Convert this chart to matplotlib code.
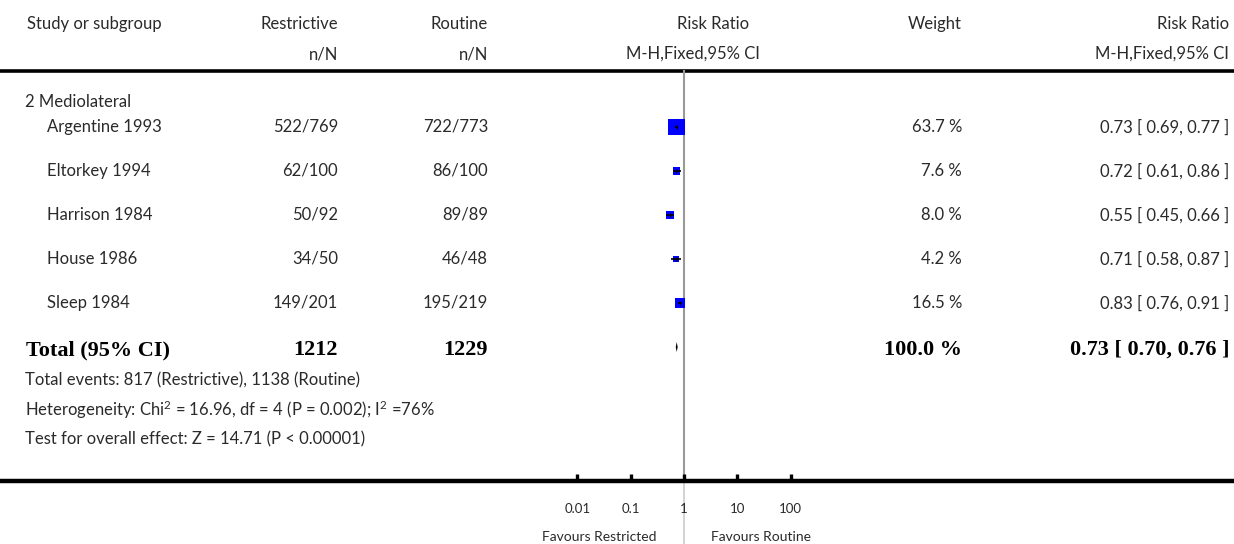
import matplotlib
matplotlib.use("Agg")
import matplotlib.pyplot as plt
import numpy as np

# ---------------- data ----------------
subgroup = "2 Mediolateral"
studies = ["Argentine 1993", "Eltorkey 1994", "Harrison 1984", "House 1986", "Sleep 1984"]
restrictive_nN = ["522/769", "62/100", "50/92", "34/50", "149/201"]
routine_nN = ["722/773", "86/100", "89/89", "46/48", "195/219"]
weights = [63.7, 7.6, 8.0, 4.2, 16.5]
rr = [0.73, 0.72, 0.55, 0.71, 0.83]
rr_lo = [0.69, 0.61, 0.45, 0.58, 0.76]
rr_hi = [0.77, 0.86, 0.66, 0.87, 0.91]
total_restrictive = "1212"
total_routine = "1229"
total_weight = 100.0
total_rr, total_lo, total_hi = 0.73, 0.70, 0.76
footer_lines = [
    "Total events: 817 (Restrictive), 1138 (Routine)",
    r"Heterogeneity: Chi$^{2}$ = 16.96, df = 4 (P = 0.002); I$^{2}$ =76%",
    "Test for overall effect: Z = 14.71 (P < 0.00001)",
]
axis_ticks = [0.01, 0.1, 1, 10, 100]
axis_tick_labels = ["0.01", "0.1", "1", "10", "100"]
favours_left = "Favours Restricted"
favours_right = "Favours Routine"

# ---------------- layout ----------------
W, H = 1234, 544
fig = plt.figure(figsize=(W / 100, H / 100), dpi=100)
plt.rcParams["mathtext.fontset"] = "custom"
plt.rcParams["mathtext.rm"] = "Lato"
plt.rcParams["mathtext.it"] = "Lato:italic"
tx = fig.add_axes([0, 0, 1, 1])
tx.set_xlim(0, W)
tx.set_ylim(H, 0)
tx.axis("off")

# forest axes: log x, pixel y; 1 at x=684, 53.3 px per decade
ppd = 53.3
x1 = 684.0
fx = fig.add_axes([0, 0, 1, 1], facecolor="none")
fx.set_xscale("log")
fx.set_xlim(10 ** ((0 - x1) / ppd), 10 ** ((W - x1) / ppd))
fx.set_ylim(H, 0)
fx.axis("off")

FONT = "Lato"
TC = "#2a2a2a"
fs = 12

def t(x, y, s, ha="left", **kw):
    kw.setdefault("fontsize", fs)
    kw.setdefault("family", FONT)
    kw.setdefault("color", TC)
    tx.text(x, y, s, ha=ha, va="center", **kw)

# header
t(27, 24, "Study or subgroup")
t(338, 24, "Restrictive", ha="right")
t(488, 24, "Routine", ha="right")
t(749, 24, "Risk Ratio", ha="right")
t(962, 24, "Weight", ha="right")
t(1229, 24, "Risk Ratio", ha="right")
t(338, 54, "n/N", ha="right")
t(488, 54, "n/N", ha="right")
t(760, 54, "M-H,Fixed,95% CI", ha="right")
t(1229, 54, "M-H,Fixed,95% CI", ha="right")
tx.plot([0, W], [71, 71], color="black", lw=2.6, solid_capstyle="butt")

t(25, 102, subgroup)

row_y = 127
dy = 44
ys = [row_y + i * dy for i in range(len(studies))]
for y, name, a, b, w, r, lo, hi in zip(ys, studies, restrictive_nN, routine_nN,
                                         weights, rr, rr_lo, rr_hi):
    t(47, y, name)
    t(338, y, a, ha="right")
    t(488, y, b, ha="right")
    t(962, y, f"{w:.1f} %", ha="right")
    t(1229, y, f"{r:.2f} [ {lo:.2f}, {hi:.2f} ]", ha="right")

# vertical line of no effect
fx.plot([1, 1], [71, 481], color="#999999", lw=1.5, zorder=1)
fx.plot([1, 1], [481, 544], color="#cccccc", lw=1.2, zorder=1)

# squares (area ~ weight) and CIs
sizes = [12.2 ** 2 * (w / weights[0]) ** 0.8 for w in weights]
fx.scatter(rr, ys, s=sizes, marker="s", color="#0000ff", edgecolors="none",
           zorder=3)
fx.hlines(ys, rr_lo, rr_hi, color="black", lw=1.2, zorder=4)
fx.vlines(rr, [y - 2 for y in ys], [y + 2 for y in ys], color="black",
          lw=0.8, zorder=4)

# total row
serif = "Liberation Serif"
bkw = dict(family=serif, fontweight="bold", fontsize=16, color="black")
t(26, 350, "Total (95% CI)", **bkw)
t(338, 350, total_restrictive, ha="right", **bkw)
t(488, 350, total_routine, ha="right", **bkw)
t(962, 350, f"{total_weight:.1f} %", ha="right", **bkw)
t(1229, 350, f"{total_rr:.2f} [ {total_lo:.2f}, {total_hi:.2f} ]", ha="right", **bkw)
dyc = 347
fx.fill([total_lo, total_rr, total_hi, total_rr], [dyc, dyc - 5, dyc, dyc + 5],
        color="black", lw=0, zorder=4)

# footer
for i, s in enumerate(footer_lines):
    t(25, 380 + i * 29.5, s)

# bottom axis
fx.plot(fx.get_xlim(), [481, 481], color="black", lw=3.2, solid_capstyle="butt")
fx.vlines(axis_ticks, 474, 481, color="black", lw=2.4)
for v, lab in zip(axis_ticks, axis_tick_labels):
    fx.text(v, 509, lab, ha="center", va="center", fontsize=9.5, family=FONT, color=TC)
t(657, 537, favours_left, ha="right", fontsize=10)
t(711, 537, favours_right, ha="left", fontsize=10)

fig.savefig("out.png", dpi=100)
